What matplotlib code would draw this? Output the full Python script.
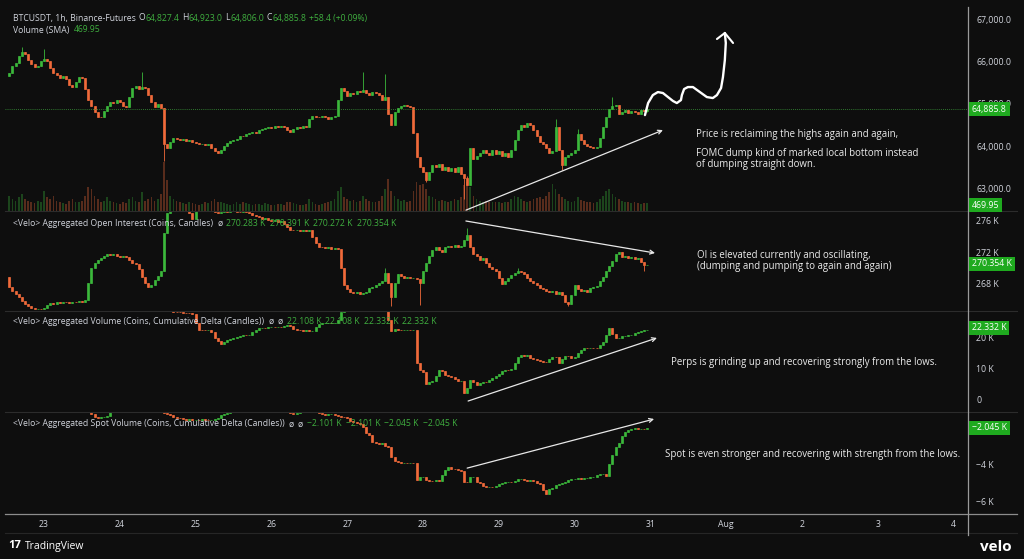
import numpy as np
import matplotlib
matplotlib.use("Agg")
import matplotlib.pyplot as plt
from matplotlib.lines import Line2D

# hourly candles, Jul 22 13:00 -> Jul 30 23:00 (index 0..202)
price_open0 = 65650
price_close = [
    65720, 65880, 65960, 66120, 66220, 66180, 66040, 65930, 65860, 65900, 66000,
    66050, 66000, 65850, 65720, 65680, 65620, 65650, 65580, 65450, 65400, 65520, 65640,
    65600, 65350, 65100, 64950, 64800, 64700, 64680, 64820, 64950, 65050, 65020, 65080,
    65050, 64960, 64920, 65150, 65380, 65420, 65350, 65400, 65380, 65200, 65050, 64920,
    65000, 64900, 64050, 63950, 64100, 64200, 64180, 64150, 64170, 64120, 64140, 64100,
    64080, 64050, 64060, 64020, 64050, 63950, 63880, 63850, 63900, 64000, 64080, 64120,
    64150, 64180, 64250, 64230, 64280, 64300, 64330, 64320, 64380, 64400, 64430, 64450,
    64420, 64470, 64450, 64480, 64460, 64380, 64330, 64400, 64450, 64430, 64470, 64460,
    64650, 64720, 64700, 64680, 64710, 64680, 64650, 64700, 64720, 65100, 65380, 65300,
    65180, 65250, 65230, 65300, 65280, 65320, 65250, 65200, 65280, 65250, 65200, 65100,
    65150, 64750, 64500, 64800, 64900, 64950, 64980, 64950, 64920, 64300, 63750, 63500,
    63400, 63200, 63400, 63550, 63500, 63580, 63450, 63500, 63420, 63480, 63400, 63500,
    63350, 63250, 63080, 63950, 63700, 63780, 63850, 63900, 63850, 63800, 63900, 63820,
    63880, 63780, 63850, 63750, 63900, 64150, 64380, 64500, 64450, 64550, 64500, 64380,
    64250, 64100, 64050, 63950, 63850, 63880, 64450, 63900, 63550, 63750, 63800, 63850,
    63900, 64280, 64150, 64050, 64000, 63980, 63960, 63990, 64200, 64450, 64700, 64880,
    64950, 64980, 64750, 64800, 64850, 64780, 64830, 64800, 64760, 64850, 64827.4, 64885.8,
]
price_wick_hi = {4: 66340, 11: 66300, 42: 65750, 112: 65750, 119: 65700, 145: 63300,
                 173: 64650, 180: 64400, 191: 65150, 202: 64923}
price_wick_lo = {49: 63650, 132: 63150, 144: 62750, 175: 63450, 202: 64806}

volume = [
    900, 700, 600, 800, 1000, 700, 600, 500, 450, 600, 550,
    1200, 800, 700, 900, 600, 500, 450, 400, 600, 700, 500, 550,
    600, 900, 1400, 1300, 900, 700, 500, 600, 800, 600, 500, 450,
    400, 500, 450, 700, 800, 600, 500, 1100, 600, 700, 800, 600,
    700, 1000, 2900, 1800, 900, 700, 600, 500, 450, 400, 500, 450,
    400, 380, 420, 500, 450, 600, 700, 500, 550, 450, 400, 380,
    420, 500, 400, 550, 450, 400, 380, 420, 400, 380, 450, 400,
    380, 350, 400, 420, 380, 500, 550, 450, 400, 380, 350, 400,
    700, 500, 400, 380, 420, 450, 500, 600, 700, 1200, 1400, 800,
    700, 600, 650, 500, 600, 900, 700, 600, 550, 500, 600, 900,
    1300, 1900, 1200, 900, 700, 600, 650, 550, 600, 1200, 1700, 1500,
    1600, 1300, 900, 800, 700, 600, 650, 600, 550, 600, 700, 650,
    800, 1500, 1700, 1400, 900, 700, 600, 550, 600, 500, 550, 500,
    500, 450, 500, 550, 700, 900, 800, 700, 600, 550, 600, 700,
    750, 800, 700, 900, 1100, 1600, 1300, 1000, 800, 700, 600, 550,
    600, 800, 650, 600, 550, 500, 450, 500, 700, 900, 1200, 1300,
    1000, 800, 700, 600, 550, 500, 450, 500, 450, 400, 480, 469.95,
]

oi_open0 = 268.8
oi_close = [
    267.5, 267.0, 266.6, 266.2, 265.7, 265.3, 265.0, 264.8, 264.6, 264.7, 264.6,
    264.8, 265.2, 265.4, 265.3, 265.5, 265.4, 265.6, 265.5, 265.4, 265.6, 265.5, 265.7,
    265.6, 265.8, 268.0, 270.0, 270.6, 271.0, 271.2, 271.5, 271.8, 271.6, 271.7, 271.5,
    271.4, 271.5, 271.3, 271.0, 270.6, 270.4, 269.8, 268.8, 268.0, 267.5, 267.8, 268.4,
    268.9, 269.5, 274.5, 277.0, 277.8, 278.0, 278.2, 278.0, 278.3, 278.1, 277.0, 276.2,
    277.4, 277.8, 277.6, 277.9, 277.7, 277.3, 277.2, 277.0, 277.1, 277.3, 277.2, 277.4,
    277.3, 277.2, 277.1, 277.3, 277.2, 277.0, 276.8, 276.6, 276.5, 276.3, 276.4, 276.1,
    276.0, 276.1, 275.9, 276.0, 275.6, 275.2, 274.9, 274.8, 274.9, 274.7, 274.8, 274.7,
    274.8, 274.0, 273.2, 272.7, 272.6, 272.5, 272.6, 272.4, 272.5, 272.4, 270.0, 267.8,
    267.2, 266.8, 266.7, 266.8, 266.6, 266.7, 266.9, 267.3, 267.5, 267.7, 268.0, 268.2,
    269.3, 268.0, 266.2, 268.0, 269.2, 268.9, 268.7, 268.8, 268.6, 268.7, 268.5, 268.0,
    269.6, 270.6, 271.5, 272.3, 272.6, 272.3, 272.0, 272.6, 272.8, 272.7, 272.9, 272.6,
    272.8, 273.5, 274.2, 272.6, 271.8, 271.5, 271.0, 271.2, 270.6, 270.1, 269.8, 269.5,
    268.6, 267.9, 268.3, 268.7, 269.0, 269.3, 269.5, 269.4, 269.1, 268.7, 268.3, 268.0,
    267.8, 267.4, 267.2, 267.0, 266.8, 267.0, 266.6, 266.8, 266.4, 265.6, 265.3, 266.5,
    267.7, 267.2, 267.0, 267.1, 266.9, 267.3, 267.5, 267.6, 268.2, 268.8, 269.5, 270.2,
    270.8, 271.8, 272.0, 271.4, 271.5, 271.2, 271.3, 271.1, 271.2, 270.7, 270.283, 270.354,
]
oi_wick_hi = {119: 270.0, 145: 275.1, 161: 269.9}
oi_wick_lo = {121: 265.0, 130: 265.2, 177: 265.0, 201: 269.6}

perp_open0 = 30.8
perp_close = [
    31.0, 31.2, 31.5, 31.8, 32.0, 31.9, 31.7, 31.6, 31.8, 31.9, 32.0,
    32.1, 31.9, 31.6, 31.4, 31.2, 31.1, 31.0, 30.8, 30.5, 30.4, 30.6, 30.8,
    30.7, 30.2, 29.8, 29.5, 29.3, 29.2, 29.4, 29.7, 29.9, 30.0, 30.1, 30.0,
    29.9, 29.8, 30.1, 30.4, 30.5, 30.4, 30.5, 30.3, 30.0, 29.8, 29.5, 29.6,
    29.4, 29.2, 28.8, 28.6, 28.3, 28.2, 28.1, 28.0, 27.9, 27.8, 27.7, 27.5,
    24.5, 22.4, 22.3, 22.1, 22.2, 21.5, 19.8, 18.6, 17.7, 18.3, 19.0, 19.5,
    19.8, 20.0, 20.2, 20.6, 20.5, 20.7, 21.5, 22.3, 22.8, 22.9, 22.8, 23.1,
    23.2, 23.1, 23.3, 23.2, 23.6, 23.9, 23.4, 22.6, 22.3, 22.1, 22.0, 22.1,
    21.9, 22.0, 23.3, 24.2, 24.4, 24.5, 24.6, 24.4, 24.5, 25.5, 28.0, 28.6,
    28.8, 29.0, 28.9, 29.1, 29.0, 28.8, 28.9, 28.7, 28.8, 28.6, 28.7, 28.5,
    28.6, 25.5, 22.0, 22.6, 22.4, 22.2, 22.3, 22.4, 22.1, 22.3, 11.5, 9.4,
    8.8, 4.8, 5.5, 5.8, 7.5, 9.4, 9.0, 7.8, 7.4, 7.2, 6.3, 5.8,
    5.9, 1.9, 3.5, 6.1, 5.5, 4.5, 5.2, 5.6, 5.4, 6.0, 6.8, 7.4,
    8.2, 9.0, 9.4, 9.2, 9.6, 11.5, 13.5, 14.2, 14.0, 14.3, 13.2, 12.8,
    12.6, 12.4, 11.9, 11.8, 13.0, 13.5, 13.4, 11.6, 12.8, 13.9, 13.8, 13.2,
    13.4, 14.8, 15.8, 16.5, 16.3, 16.6, 16.5, 16.4, 17.5, 18.4, 20.5, 22.9,
    21.0, 19.7, 19.8, 20.2, 20.4, 20.6, 20.8, 21.3, 21.6, 21.9, 22.108, 22.332,
]

spot_open0 = -0.62
spot_close = [
    -0.60, -0.55, -0.50, -0.45, -0.50, -0.55, -0.60, -0.58, -0.62, -0.65, -0.70,
    -0.72, -0.75, -0.70, -0.78, -0.82, -0.85, -0.88, -0.90, -0.95, -1.00, -0.98, -1.02,
    -1.05, -1.10, -1.15, -1.30, -1.45, -1.50, -1.48, -1.46, -1.40, -1.10, -0.95, -0.90,
    -0.88, -0.85, -0.90, -0.92, -0.88, -0.85, -0.90, -0.95, -0.98, -1.00, -1.02, -1.05,
    -1.08, -1.10, -1.22, -1.30, -1.35, -1.45, -1.50, -1.52, -1.55, -1.60, -1.58, -1.62,
    -1.60, -1.62, -1.58, -1.60, -1.62, -1.60, -1.58, -1.50, -1.35, -1.30, -1.25, -1.20,
    -1.15, -1.05, -1.00, -0.98, -0.95, -0.97, -0.95, -0.92, -0.95, -0.98, -1.00, -1.02,
    -1.05, -1.08, -1.10, -1.12, -1.15, -1.20, -1.25, -1.28, -1.25, -1.15, -1.10, -1.08,
    -1.10, -1.12, -1.15, -1.25, -1.30, -1.35, -1.32, -1.30, -1.35, -1.40, -1.45, -1.48,
    -1.50, -1.65, -1.75, -1.80, -1.85, -2.00, -2.30, -2.45, -2.80, -2.85, -2.90, -2.88,
    -3.05, -3.10, -3.60, -3.85, -3.90, -3.95, -3.92, -3.95, -3.94, -3.97, -4.85, -4.72,
    -4.70, -4.88, -4.90, -4.92, -4.88, -4.90, -4.60, -4.30, -4.15, -4.25, -4.28, -4.30,
    -4.35, -4.95, -4.98, -4.70, -4.68, -4.95, -5.00, -5.20, -5.25, -5.22, -5.24, -5.20,
    -5.10, -5.00, -4.98, -4.95, -4.97, -4.94, -4.82, -4.80, -4.88, -4.90, -4.86, -4.92,
    -5.05, -5.10, -5.40, -5.62, -5.35, -5.28, -5.15, -5.10, -5.05, -4.95, -4.85, -4.82,
    -4.80, -4.78, -4.82, -4.76, -4.75, -4.72, -4.70, -4.60, -4.55, -4.52, -4.62, -4.00,
    -3.50, -3.10, -2.86, -2.50, -2.27, -2.18, -2.12, -2.08, -2.10, -2.09, -2.101, -2.045,
]

day_ticks = [11 + 24 * k for k in range(13)]
day_labels = ["23", "24", "25", "26", "27", "28", "29", "30", "31", "Aug", "2", "3", "4"]

price_ticks = [63000, 64000, 65000, 66000, 67000]
oi_ticks = [268, 272, 276]
perp_ticks = [0, 10, 20]
spot_ticks = [-6, -4]

# hand drawn squiggle on the price pane (hour, price)
squiggle_h = [201.3, 202.3, 203.8, 205.4, 207.0, 208.6, 210.2, 211.4, 212.7, 213.0, 213.7,
              214.9, 216.5, 218.7, 220.9, 222.8, 224.1, 225.4, 226.0, 226.6, 226.9, 226.6]
squiggle_p = [64734, 65018, 65206, 65277, 65254, 65159, 65065, 65018, 65088, 65206, 65348,
              65395, 65395, 65277, 65159, 65136, 65206, 65372, 65631, 66032, 66434, 66670]

W, H = 1024, 559
BG = "#0e0e0e"
GREEN = "#3bb83b"
RED = "#f06a3a"
TXT = "#d1d4dc"
VALG = "#3fae3f"
FONT = "Open Sans"

plt.rcParams["font.family"] = FONT

fig = plt.figure(figsize=(W / 100, H / 100), dpi=100, facecolor=BG)


def add_pane(top, bottom, ylim):
    ax = fig.add_axes([5 / W, 1 - bottom / H, 963 / W, (bottom - top) / H])
    ax.set_facecolor(BG)
    for s in ax.spines.values():
        s.set_visible(False)
    ax.set_xlim(-1.35, 303.6)
    ax.set_ylim(*ylim)
    return ax


def right_scale(ax, ticks, labels):
    ax.yaxis.tick_right()
    ax.set_yticks(ticks)
    ax.set_yticklabels(labels)
    ax.tick_params(axis="y", length=0, labelsize=6.3, labelcolor=TXT, pad=6)
    ax.tick_params(axis="x", length=0, labelbottom=False)


def draw_candles(ax, closes, open0, wick_hi={}, wick_lo={}):
    closes = np.asarray(closes, dtype=float)
    opens = np.r_[open0, closes[:-1]]
    idx = np.arange(len(closes))
    cols = np.where(closes >= opens, GREEN, RED)
    hi = np.maximum(opens, closes)
    lo = np.minimum(opens, closes)
    for k, v in wick_hi.items():
        hi[k] = max(hi[k], v)
    for k, v in wick_lo.items():
        lo[k] = min(lo[k], v)
    ax.vlines(idx, lo, hi, colors=cols, linewidth=0.6)
    ax.bar(idx, np.maximum(opens, closes) - np.minimum(opens, closes), width=0.62,
           bottom=np.minimum(opens, closes), color=cols, edgecolor=cols, linewidth=0.5)
    return cols


ax_p = add_pane(7, 211, (62472, 67283))
ax_oi = add_pane(211, 311, (264.39, 277.29))
ax_pv = add_pane(311, 412, (-4.19, 28.39))
ax_sv = add_pane(412, 512, (-6.59, -1.19))

# volume under the price candles (twinx first, it resets the tick side)
ax_v = ax_p.twinx()
ax_v.set_ylim(0, 12000)
ax_v.axis("off")
ax_p.set_zorder(ax_v.get_zorder() + 1)
ax_p.patch.set_visible(False)
ax_v.set_facecolor(BG)

right_scale(ax_p, price_ticks, [f"{t:,.1f}" for t in price_ticks])
right_scale(ax_oi, oi_ticks, [f"{t} K" for t in oi_ticks])
right_scale(ax_pv, perp_ticks, ["0", "10 K", "20 K"])
right_scale(ax_sv, spot_ticks, ["\u22126 K", "\u22124 K"])

cols = draw_candles(ax_p, price_close, price_open0, price_wick_hi, price_wick_lo)
ax_v.bar(np.arange(len(volume)), volume, width=0.55, color=cols, alpha=0.33)
ax_p.axhline(price_close[-1], color="#3a9a3a", lw=0.6, ls=(0, (1, 1.5)))

draw_candles(ax_oi, oi_close, oi_open0, oi_wick_hi, oi_wick_lo)
draw_candles(ax_pv, perp_close, perp_open0)
draw_candles(ax_sv, spot_close, spot_open0)

ax_sv.set_xticks(day_ticks)
ax_sv.set_xticklabels(day_labels)
ax_sv.tick_params(axis="x", labelbottom=True, labelsize=6.3, labelcolor=TXT, pad=5.5)

# trend arrows
arrow = dict(arrowstyle="->", color="#e8e8e8", lw=0.9, shrinkA=0, shrinkB=0,
             mutation_scale=7)
ax_p.annotate("", xy=(207.0, 64380), xytext=(144.6, 62492), arrowprops=arrow,
              annotation_clip=False)
ax_oi.annotate("", xy=(204.5, 271.87), xytext=(144.6, 276.0), arrowprops=arrow)
ax_pv.annotate("", xy=(205.1, 19.7), xytext=(145.3, -0.65), arrowprops=arrow)
ax_sv.annotate("", xy=(204.2, -1.57), xytext=(145.0, -4.22), arrowprops=arrow)

ax_p.plot(squiggle_h, squiggle_p, color="white", lw=1.7, solid_joinstyle="round",
          solid_capstyle="round")
ax_p.plot([224.1, 226.6, 229.2], [66528, 66670, 66434], color="white", lw=1.5,
          solid_joinstyle="round", solid_capstyle="round")


def px(x, y):
    return x / W, 1 - y / H


# frame lines
for y in (211, 311, 412):
    fig.add_artist(Line2D([5 / W, 1017 / W], [1 - y / H] * 2, color="#2c2c2c", lw=0.8))
fig.add_artist(Line2D([5 / W, 1017 / W], [1 - 514 / H] * 2, color="#8c8c8c", lw=0.9))
fig.add_artist(Line2D([5 / W, 1017 / W], [1 - 533 / H] * 2, color="#262626", lw=0.8))
fig.add_artist(Line2D([968 / W] * 2, [1 - 7 / H, 1 - 535 / H], color="#9a9a9a", lw=0.9))


def header(segments, x, y, size=6.2):
    r = fig.canvas.get_renderer()
    for s, c, gap in segments:
        t = fig.text(*px(x, y), s, color=c, fontsize=size, va="center", ha="left")
        x += t.get_window_extent(r).width + gap


header([("BTCUSDT, 1h, Binance-Futures", TXT, 3), ("O", TXT, 0), ("64,827.4", VALG, 3),
        ("H", TXT, 0), ("64,923.0", VALG, 3), ("L", TXT, 0), ("64,806.0", VALG, 3),
        ("C", TXT, 0), ("64,885.8", VALG, 3), ("+58.4 (+0.09%)", VALG, 0)], 13, 18)
header([("Volume (SMA)", TXT, 4), ("469.95", VALG, 0)], 13, 30)
header([("<Velo> Aggregated Open Interest (Coins, Candles)", TXT, 4), ("\u00f8", TXT, 4),
        ("270.283 K", VALG, 4), ("270.391 K", VALG, 4), ("270.272 K", VALG, 4),
        ("270.354 K", VALG, 0)], 13, 223)
header([("<Velo> Aggregated Volume (Coins, Cumulative Delta (Candles))", TXT, 4),
        ("\u00f8", TXT, 4), ("\u00f8", TXT, 4), ("22.108 K", VALG, 4), ("22.108 K", VALG, 4),
        ("22.332 K", VALG, 4), ("22.332 K", VALG, 0)], 13, 321)
header([("<Velo> Aggregated Spot Volume (Coins, Cumulative Delta (Candles))", TXT, 4),
        ("\u00f8", TXT, 4), ("\u00f8", TXT, 4), ("\u22122.101 K", VALG, 4),
        ("\u22122.101 K", VALG, 4), ("\u22122.045 K", VALG, 4), ("\u22122.045 K", VALG, 0)],
       13, 424)

# notes
note = dict(color="#ececec", fontsize=6.95, va="center", ha="left", linespacing=1.0)
fig.text(*px(696, 134), "Price is reclaiming the highs again and again,", **note)
fig.text(*px(696, 159), "FOMC dump kind of marked local bottom instead\nof dumping straight down.",
         **note)
fig.text(*px(697, 261), "OI is elevated currently and oscillating,\n"
         "(dumping and pumping to again and again)", **note)
fig.text(*px(671, 363), "Perps is grinding up and recovering strongly from the lows.", **note)
fig.text(*px(665, 455), "Spot is even stronger and recovering with strength from the lows.",
         **note)

# last value tags on the right scale
tag = dict(color="white", fontsize=6.3, va="center", ha="left",
           bbox=dict(boxstyle="square,pad=0.3", fc="#1faa1f", ec="none"))
fig.text(*px(972, 109), "64,885.8", **tag)
fig.text(*px(972, 205), "469.95", **tag)
fig.text(*px(972, 264), "270.354 K", **tag)
fig.text(*px(972, 328), "22.332 K", **tag)
fig.text(*px(972, 428), "\u22122.045 K", **tag)

# logos
fig.text(*px(8, 546), "17", color="white", fontsize=8, fontweight="bold", va="center")
fig.text(*px(25, 546), "TradingView", color="white", fontsize=7.5, va="center")
fig.text(*px(1012, 547), "velo", color="white", fontsize=11, fontweight="bold",
         va="center", ha="right")

fig.savefig("out.png", dpi=100, facecolor=BG)
